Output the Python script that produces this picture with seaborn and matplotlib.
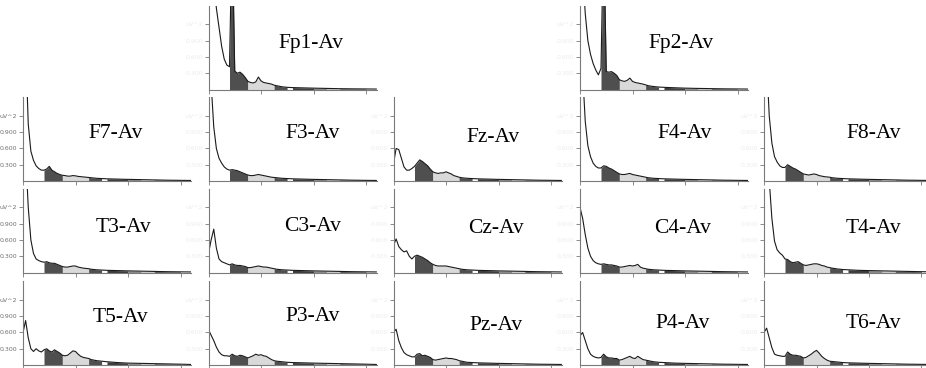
import matplotlib
matplotlib.use('Agg')
import matplotlib.pyplot as plt
import seaborn as sns
import numpy as np

# frequency grid (Hz) shared by all channels
FREQ = [0, 0.5, 1, 1.5, 2, 2.5, 3, 3.5, 4, 4.5, 5, 5.5, 6, 6.5, 7, 7.5, 8, 8.5, 9, 9.5,
        10, 10.5, 11, 11.5, 12, 12.5, 13, 14, 15, 16, 18, 20, 22.5, 25, 27.5, 30, 32]

# power (uV^2) per channel (values above 1.55 run off the top)
FP1 = [3.0, 2.6, 2.0, 1.5, 1.15, 0.8, 0.56, 0.45, 0.42, 3.0, 0.34, 0.3, 0.32, 0.28, 0.22, 0.15, 0.13, 0.12, 0.14, 0.23,
       0.16, 0.13, 0.12, 0.11, 0.1, 0.08, 0.07, 0.05, 0.04, 0.035, 0.03, 0.025, 0.02, 0.015, 0.012, 0.01, 0.008]
FP2 = [3.0, 2.2, 1.4, 0.9, 0.65, 0.48, 0.36, 0.27, 0.39, 3.0, 0.33, 0.32, 0.33, 0.3, 0.26, 0.18, 0.16, 0.15, 0.17, 0.21,
       0.15, 0.13, 0.12, 0.11, 0.1, 0.085, 0.07, 0.055, 0.045, 0.04, 0.032, 0.025, 0.02, 0.016, 0.012, 0.01, 0.008]
F7 = [3.0, 2.5, 1.05, 0.55, 0.38, 0.28, 0.23, 0.2, 0.2, 0.22, 0.27, 0.2, 0.17, 0.14, 0.12, 0.105, 0.1, 0.09, 0.09, 0.1,
      0.095, 0.085, 0.08, 0.075, 0.07, 0.065, 0.06, 0.05, 0.045, 0.04, 0.035, 0.03, 0.025, 0.02, 0.015, 0.012, 0.01]
F3 = [3.0, 1.8, 1.0, 0.6, 0.42, 0.33, 0.26, 0.22, 0.2, 0.21, 0.2, 0.19, 0.17, 0.15, 0.13, 0.11, 0.1, 0.1, 0.11, 0.12,
      0.11, 0.1, 0.09, 0.08, 0.07, 0.065, 0.06, 0.05, 0.045, 0.04, 0.035, 0.03, 0.025, 0.02, 0.015, 0.012, 0.01]
FZ = [0.32, 0.6, 0.58, 0.42, 0.26, 0.2, 0.2, 0.23, 0.27, 0.33, 0.39, 0.36, 0.32, 0.28, 0.22, 0.17, 0.15, 0.14, 0.15, 0.15,
      0.17, 0.15, 0.13, 0.1, 0.085, 0.07, 0.06, 0.05, 0.045, 0.04, 0.035, 0.03, 0.025, 0.02, 0.015, 0.012, 0.01]
F4 = [3.0, 2.0, 1.1, 0.65, 0.45, 0.33, 0.27, 0.24, 0.24, 0.28, 0.27, 0.24, 0.22, 0.19, 0.16, 0.13, 0.12, 0.12, 0.13, 0.14,
      0.12, 0.11, 0.1, 0.09, 0.08, 0.07, 0.06, 0.05, 0.045, 0.04, 0.035, 0.03, 0.025, 0.02, 0.015, 0.012, 0.01]
F8 = [3.0, 2.2, 1.2, 0.7, 0.45, 0.35, 0.28, 0.25, 0.25, 0.3, 0.27, 0.24, 0.22, 0.19, 0.16, 0.13, 0.12, 0.11, 0.12, 0.13,
      0.12, 0.1, 0.09, 0.08, 0.075, 0.07, 0.06, 0.05, 0.045, 0.04, 0.035, 0.03, 0.025, 0.02, 0.015, 0.012, 0.01]
T3 = [3.0, 2.2, 1.2, 0.6, 0.35, 0.25, 0.22, 0.2, 0.19, 0.2, 0.18, 0.17, 0.17, 0.15, 0.13, 0.11, 0.1, 0.1, 0.11, 0.12,
      0.12, 0.1, 0.09, 0.08, 0.075, 0.07, 0.06, 0.05, 0.045, 0.04, 0.035, 0.03, 0.025, 0.02, 0.015, 0.012, 0.01]
C3 = [0.35, 0.6, 0.8, 0.45, 0.25, 0.2, 0.18, 0.16, 0.14, 0.16, 0.14, 0.13, 0.13, 0.12, 0.11, 0.09, 0.09, 0.1, 0.11, 0.12,
      0.11, 0.1, 0.1, 0.09, 0.08, 0.07, 0.06, 0.05, 0.045, 0.04, 0.035, 0.03, 0.025, 0.02, 0.015, 0.012, 0.01]
CZ = [0.5, 0.62, 0.48, 0.42, 0.38, 0.4, 0.3, 0.25, 0.3, 0.32, 0.3, 0.28, 0.25, 0.22, 0.18, 0.15, 0.13, 0.12, 0.12, 0.12,
      0.12, 0.11, 0.1, 0.09, 0.08, 0.07, 0.06, 0.05, 0.045, 0.04, 0.035, 0.03, 0.025, 0.02, 0.015, 0.012, 0.01]
C4 = [1.2, 1.0, 0.7, 0.45, 0.3, 0.22, 0.18, 0.16, 0.15, 0.16, 0.15, 0.14, 0.14, 0.13, 0.12, 0.1, 0.1, 0.11, 0.12, 0.13,
      0.12, 0.13, 0.15, 0.1, 0.08, 0.07, 0.06, 0.05, 0.045, 0.04, 0.035, 0.03, 0.025, 0.02, 0.015, 0.012, 0.01]
T4 = [3.0, 2.5, 1.7, 1.0, 0.58, 0.42, 0.36, 0.32, 0.25, 0.24, 0.2, 0.18, 0.19, 0.2, 0.17, 0.14, 0.13, 0.14, 0.15, 0.16,
      0.16, 0.15, 0.13, 0.12, 0.1, 0.09, 0.08, 0.065, 0.055, 0.05, 0.04, 0.035, 0.03, 0.025, 0.02, 0.015, 0.012]
T5 = [0.6, 0.82, 0.5, 0.3, 0.25, 0.3, 0.26, 0.24, 0.28, 0.3, 0.26, 0.24, 0.28, 0.25, 0.22, 0.18, 0.17, 0.18, 0.22, 0.26,
      0.25, 0.2, 0.16, 0.14, 0.13, 0.12, 0.1, 0.08, 0.07, 0.06, 0.045, 0.035, 0.03, 0.025, 0.02, 0.015, 0.01]
P3 = [0.65, 0.55, 0.45, 0.33, 0.24, 0.19, 0.17, 0.17, 0.16, 0.2, 0.17, 0.16, 0.18, 0.17, 0.15, 0.13, 0.15, 0.17, 0.2, 0.18,
      0.19, 0.17, 0.16, 0.13, 0.1, 0.08, 0.07, 0.06, 0.05, 0.045, 0.04, 0.035, 0.03, 0.025, 0.02, 0.015, 0.01]
PZ = [0.6, 0.66, 0.45, 0.32, 0.23, 0.19, 0.17, 0.15, 0.15, 0.2, 0.21, 0.17, 0.18, 0.16, 0.14, 0.1, 0.09, 0.1, 0.11, 0.12,
      0.13, 0.12, 0.12, 0.11, 0.1, 0.08, 0.07, 0.05, 0.045, 0.04, 0.035, 0.03, 0.025, 0.02, 0.015, 0.012, 0.01]
P4 = [0.54, 0.6, 0.45, 0.3, 0.2, 0.16, 0.14, 0.13, 0.14, 0.2, 0.15, 0.13, 0.13, 0.12, 0.12, 0.09, 0.1, 0.12, 0.14, 0.16,
      0.13, 0.12, 0.16, 0.13, 0.1, 0.09, 0.08, 0.06, 0.05, 0.045, 0.035, 0.03, 0.025, 0.02, 0.015, 0.012, 0.01]
T6 = [0.6, 0.68, 0.5, 0.32, 0.2, 0.18, 0.17, 0.16, 0.16, 0.24, 0.2, 0.18, 0.18, 0.17, 0.16, 0.13, 0.14, 0.17, 0.2, 0.24,
      0.27, 0.22, 0.16, 0.12, 0.09, 0.07, 0.065, 0.055, 0.045, 0.04, 0.035, 0.03, 0.025, 0.02, 0.015, 0.012, 0.01]

# (label, data, row, col, text x frac, text y frac)
PANELS = [
    ('Fp1-Av', FP1, 0, 1, 0.61, 0.55), ('Fp2-Av', FP2, 0, 3, 0.60, 0.55),
    ('F7-Av', F7, 1, 0, 0.55, 0.57), ('F3-Av', F3, 1, 1, 0.62, 0.56),
    ('Fz-Av', FZ, 1, 2, 0.59, 0.52), ('F4-Av', F4, 1, 3, 0.62, 0.56),
    ('F8-Av', F8, 1, 4, 0.65, 0.56),
    ('T3-Av', T3, 2, 0, 0.60, 0.54), ('C3-Av', C3, 2, 1, 0.62, 0.55),
    ('Cz-Av', CZ, 2, 2, 0.61, 0.52), ('C4-Av', C4, 2, 3, 0.61, 0.52),
    ('T4-Av', T4, 2, 4, 0.65, 0.52),
    ('T5-Av', T5, 3, 0, 0.58, 0.56), ('P3-Av', P3, 3, 1, 0.62, 0.58),
    ('Pz-Av', PZ, 3, 2, 0.61, 0.47), ('P4-Av', P4, 3, 3, 0.61, 0.50),
    ('T6-Av', T6, 3, 4, 0.65, 0.50),
]

# frequency bands that get shaded (start, end, colour)
BANDS = [(4, 7.5, '#4f4f4f'), (7.5, 12.5, '#d9d9d9'), (12.5, 15, '#4f4f4f'),
         (15, 16, 'white'), (16, 20, '#3c3c3c'), (20, 22.5, '#8a8a8a'),
         (22.5, 25, '#c9c9c9'), (25, 30, '#5e5e5e')]

YTICKS = [0.3, 0.6, 0.9, 1.2]
YLABELS = ['0.300', '0.600', '0.900', 'uV^2']

W, H = 926, 368
COL_X = [23, 208.5, 393.5, 580, 764]
ROW_BASE = [89.5, 181, 272.5, 365]
AX_W, AX_H = 168, 84

sns.set_style('white')
fig = plt.figure(figsize=(W / 100, H / 100), dpi=100)
freq = np.array(FREQ)

for label, vals, row, col, tx, ty in PANELS:
    left = COL_X[col] / W
    bottom = 1 - ROW_BASE[row] / H
    ax = fig.add_axes([left, bottom, AX_W / W, AX_H / H])
    vals = np.array(vals)
    for lo, hi, c in BANDS:
        ax.fill_between(freq, 0, vals, where=(freq >= lo) & (freq <= hi),
                        color=c, lw=0, interpolate=False)
    sns.lineplot(x=freq, y=vals, ax=ax, color='#1a1a1a', lw=0.8)
    ax.set_xlim(0, 32)
    ax.set_ylim(0, 1.55)
    ax.set_xticks([0, 10, 20, 30])
    ax.set_xticklabels([])
    ax.set_yticks(YTICKS)
    ax.set_yticklabels(YLABELS)
    lab_col = '#707070' if col == 0 else '#ececec'
    ax.tick_params(axis='y', direction='out', length=3, width=0.6, color='#777777',
                   labelsize=4.5, labelcolor=lab_col, pad=1, left=True)
    ax.tick_params(axis='x', direction='out', length=3, width=0.6, color='#777777', bottom=True)
    for s in ['top', 'right']:
        ax.spines[s].set_visible(False)
    for s in ['left', 'bottom']:
        ax.spines[s].set_color('#7a7a7a')
        ax.spines[s].set_linewidth(0.8)
    ax.set_xlabel('')
    ax.set_ylabel('')
    ax.text(tx, ty, label, transform=ax.transAxes, ha='center', va='center',
            fontsize=15.5, family='Liberation Serif', color='#000000')

fig.savefig('out.png', dpi=100)
